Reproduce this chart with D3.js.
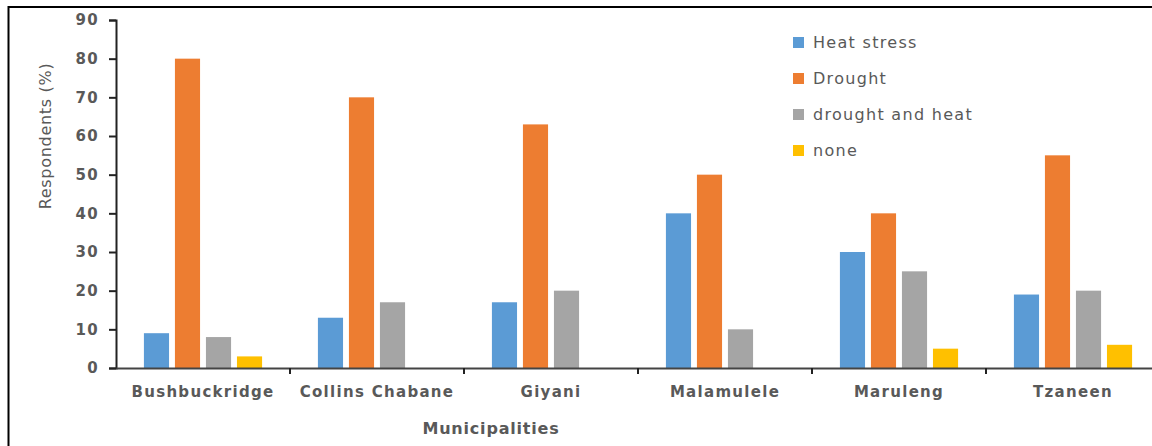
<!DOCTYPE html>
<html>
<head>
<meta charset="utf-8">
<script src="https://cdn.jsdelivr.net/npm/d3@7"></script>
<style>
  html, body { margin: 0; padding: 0; background: #fff; }
  svg { display: block; }
</style>
</head>
<body>
<svg id="chart" width="1152" height="446"></svg>
<script>
// Municipalities surveyed and share of respondents (%) per perceived hazard
const municipalities = ["Bushbuckridge", "Collins Chabane", "Giyani", "Malamulele", "Maruleng", "Tzaneen"];
const seriesNames = ["Heat stress", "Drought", "drought and heat", "none"];
const heatStress     = [9, 13, 17, 40, 30, 19];
const drought        = [80, 70, 63, 50, 40, 55];
const droughtAndHeat = [8, 17, 20, 10, 25, 20];
const none           = [3, 0, 0, 0, 5, 6];
const yTicks = [0, 10, 20, 30, 40, 50, 60, 70, 80, 90];
const colors = ["#5B9BD5", "#ED7D31", "#A5A5A5", "#FFC000"];

const seriesValues = [heatStress, drought, droughtAndHeat, none];
const rows = municipalities.map((m, i) => ({
  name: m,
  values: seriesNames.map((s, k) => ({ series: s, value: seriesValues[k][i] }))
}));

const svg = d3.select("#chart");
const textColor = "#595959";
const font = "'DejaVu Sans', sans-serif";

// outer frame
svg.append("rect")
  .attr("x", 8.5).attr("y", 7)
  .attr("width", 1160).attr("height", 460)
  .attr("fill", "none").attr("stroke", "#000").attr("stroke-width", 2);

const plotLeft = 116, plotRight = 1160, plotTop = 20, plotBottom = 368;

const x0 = d3.scaleBand().domain(municipalities).range([plotLeft, plotRight]).paddingInner(0).paddingOuter(0);
const x1 = d3.scaleBand().domain(seriesNames).range([0, x0.bandwidth()]).paddingInner(0.19).paddingOuter(0.9);
const y = d3.scaleLinear().domain([0, 90]).range([plotBottom, plotTop]);
const color = d3.scaleOrdinal().domain(seriesNames).range(colors);

// bars
const groups = svg.append("g").selectAll("g")
  .data(rows).join("g")
  .attr("transform", d => `translate(${x0(d.name)},0)`);

groups.selectAll("rect")
  .data(d => d.values.filter(v => v.value > 0))
  .join("rect")
  .attr("x", d => x1(d.series))
  .attr("y", d => y(d.value))
  .attr("width", x1.bandwidth())
  .attr("height", d => y(0) - y(d.value))
  .attr("fill", d => color(d.series));

// y axis
const yAxis = svg.append("g")
  .attr("transform", `translate(${plotLeft},0)`)
  .call(d3.axisLeft(y).tickValues(yTicks).tickSize(7).tickPadding(10));
yAxis.select(".domain").attr("stroke", "#222").attr("stroke-width", 2);
yAxis.selectAll(".tick line").attr("stroke", "#222").attr("stroke-width", 2);
yAxis.selectAll(".tick text")
  .attr("fill", textColor)
  .style("font-family", font)
  .style("font-weight", "bold")
  .style("font-size", "15px")
  .style("letter-spacing", "1.3px");

// x axis: ticks sit on group boundaries
const xAxis = svg.append("g")
  .attr("transform", `translate(0,${plotBottom})`)
  .call(d3.axisBottom(x0).tickSize(0).tickPadding(18));
xAxis.select(".domain").attr("stroke", "#444").attr("stroke-width", 2);
xAxis.selectAll(".tick text")
  .attr("fill", textColor)
  .style("font-family", font)
  .style("font-weight", "bold")
  .style("font-size", "15px")
  .style("letter-spacing", "1.3px");
xAxis.selectAll(".boundary")
  .data(municipalities.slice(1))
  .join("line")
  .attr("class", "boundary")
  .attr("x1", d => x0(d)).attr("x2", d => x0(d))
  .attr("y1", 0).attr("y2", 6)
  .attr("stroke", "#222").attr("stroke-width", 2);

// axis titles
svg.append("text")
  .attr("transform", "translate(51,136) rotate(-90)")
  .attr("text-anchor", "middle")
  .attr("fill", textColor)
  .style("font-family", font)
  .style("font-size", "16px")
  .style("letter-spacing", "0.7px")
  .text("Respondents (%)");

svg.append("text")
  .attr("x", 491).attr("y", 434)
  .attr("text-anchor", "middle")
  .attr("fill", textColor)
  .style("font-family", font)
  .style("font-weight", "bold")
  .style("font-size", "16px")
  .style("letter-spacing", "0.8px")
  .text("Municipalities");

// legend
const legend = svg.append("g").attr("transform", "translate(793,42)");
const item = legend.selectAll("g").data(seriesNames).join("g")
  .attr("transform", (d, i) => `translate(0,${i * 36})`);
item.append("rect")
  .attr("x", 0).attr("y", -5)
  .attr("width", 11).attr("height", 11)
  .attr("fill", d => color(d));
item.append("text")
  .attr("x", 20).attr("y", 0)
  .attr("dy", "0.35em")
  .attr("fill", textColor)
  .style("font-family", font)
  .style("font-size", "16px")
  .style("letter-spacing", "1.3px")
  .text(d => d);
</script>
</body>
</html>
